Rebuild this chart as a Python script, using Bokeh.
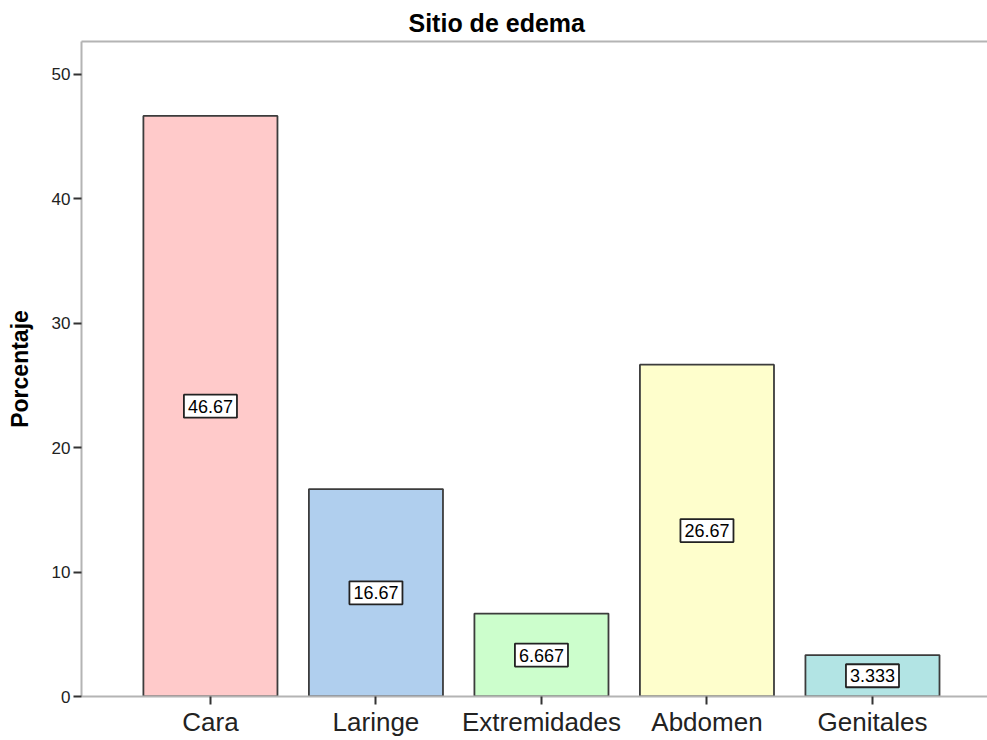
from bokeh.plotting import figure
from bokeh.models import (ColumnDataSource, Range1d, FixedTicker, LinearAxis)
from bokeh.core.properties import value
from bokeh.embed import file_html
from bokeh.resources import INLINE

categories = ["Cara", "Laringe", "Extremidades", "Abdomen", "Genitales"]
percentages = [46.67, 16.67, 6.667, 26.67, 3.333]
value_labels = ["46.67", "16.67", "6.667", "26.67", "3.333"]
bar_colors = ["#FFCACA", "#B0CFEE", "#CCFECC", "#FEFECC", "#B2E4E4"]
y_ticks = [0, 10, 20, 30, 40, 50]

xs = list(range(len(categories)))
source = ColumnDataSource(dict(
    x=xs, top=percentages, mid=[v / 2 for v in percentages],
    label=value_labels, color=bar_colors))

FONT = "Liberation Sans"

p = figure(width=987, height=740, output_backend="svg", toolbar_location=None,
           x_range=Range1d(-0.779, 4.695), y_range=Range1d(0, 52.65),
           min_border_left=81, min_border_top=41, min_border_bottom=44, min_border_right=0)
p.outline_line_color = None
p.xgrid.visible = False
p.ygrid.visible = False

p.title.text = "Sitio de edema"
p.title.align = "left"
p.title.offset = 327
p.title.text_font = FONT
p.title.text_font_size = "25px"
p.title.text_font_style = "bold"
p.title.text_color = "#000000"

p.vbar(x="x", top="top", bottom=0, width=0.81, source=source,
       fill_color="color", line_color="#3c3c3c", line_width=1.8)

p.text(x="x", y="mid", text="label", source=source,
       text_align="center", text_baseline="middle",
       text_font_size="18px", text_font=value(FONT), text_color="#000000",
       background_fill_color="white", border_line_color="#222222",
       border_line_width=1.8, padding=(4, 5))

# x axis
p.xaxis.ticker = FixedTicker(ticks=xs)
p.xaxis.major_label_overrides = {i: c for i, c in enumerate(categories)}
p.xaxis.axis_line_color = "#b4b4b4"
p.xaxis.axis_line_width = 2
p.xaxis.major_tick_line_color = "#333333"
p.xaxis.major_tick_line_width = 2
p.xaxis.major_tick_out = 8
p.xaxis.major_tick_in = 0
p.xaxis.minor_tick_line_color = None
p.xaxis.major_label_text_font = FONT
p.xaxis.major_label_text_font_size = "26px"
p.xaxis.major_label_text_color = "#222222"
p.xaxis.major_label_standoff = 2

# y axis
p.yaxis.ticker = FixedTicker(ticks=y_ticks)
p.yaxis.axis_line_color = "#b4b4b4"
p.yaxis.axis_line_width = 2
p.yaxis.major_tick_line_color = "#333333"
p.yaxis.major_tick_line_width = 2
p.yaxis.major_tick_out = 8
p.yaxis.major_tick_in = 0
p.yaxis.minor_tick_line_color = None
p.yaxis.major_label_text_font = FONT
p.yaxis.major_label_text_font_size = "17px"
p.yaxis.major_label_text_color = "#222222"
p.yaxis.major_label_standoff = 3
p.yaxis.axis_label = "Porcentaje"
p.yaxis.axis_label_text_font = FONT
p.yaxis.axis_label_text_font_size = "23px"
p.yaxis.axis_label_text_font_style = "bold"
p.yaxis.axis_label_text_color = "#000000"
p.yaxis.axis_label_standoff = 16

# top border line
top = LinearAxis(ticker=FixedTicker(ticks=[]), axis_line_color="#b4b4b4", axis_line_width=2,
                 major_tick_line_color=None, minor_tick_line_color=None,
                 major_label_text_font_size="0px")
p.add_layout(top, "above")

open("out.html", "w").write(file_html(p, INLINE))
